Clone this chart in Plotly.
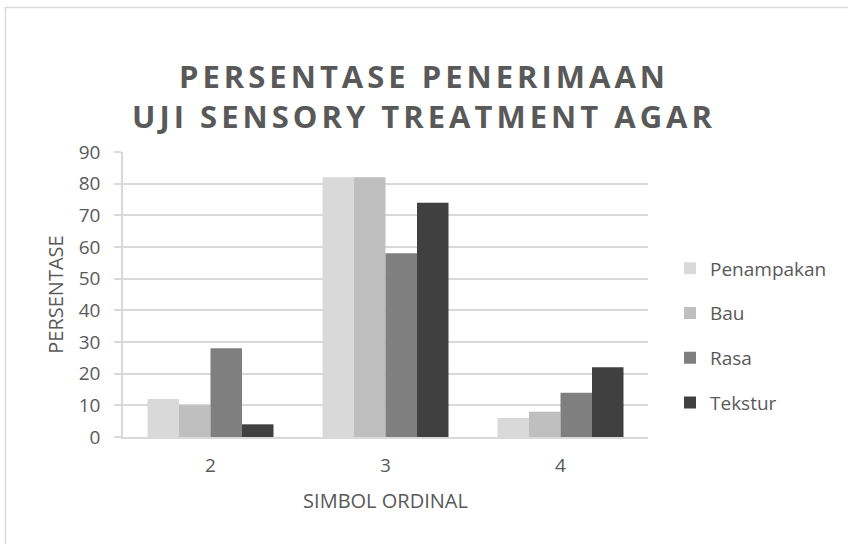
import plotly.graph_objects as go

categories = ["2", "3", "4"]
series_names = ["Penampakan", "Bau", "Rasa", "Tekstur"]
penampakan = [12, 82, 6]
bau = [10, 82, 8]
rasa = [28, 58, 14]
tekstur = [4, 74, 22]
colors = ["#d9d9d9", "#bfbfbf", "#7f7f7f", "#404040"]

values = [penampakan, bau, rasa, tekstur]
fig = go.Figure()
for name, vals, c in zip(series_names, values, colors):
    fig.add_trace(go.Bar(name=name, x=categories, y=vals, legendgroup=name,
                         marker=dict(color=c, line=dict(width=0))))

W, H = 848, 544
ml, mr, mt, mb = 123, 200, 152, 107
pw, ph = W - ml - mr, H - mt - mb

fig.update_layout(
    width=W, height=H,
    margin=dict(l=ml, r=mr, t=mt, b=mb),
    paper_bgcolor="white", plot_bgcolor="white",
    barmode="group", bargap=0.28, bargroupgap=0,
    font=dict(family="Open Sans", color="#595959"),
    title=dict(
        text="<b>PERSENTASE PENERIMAAN<br>UJI SENSORY TREATMENT AGAR</b>",
        x=0.5, xanchor="center", y=1 - 87.5 / H, yanchor="middle",
        font=dict(size=31, color="#595959", family="Open Sans"),
    ),
    xaxis=dict(
        showline=True, linecolor="#d9d9d9", linewidth=1.5,
        tickfont=dict(size=19, color="#595959"),
        title=dict(text="SIMBOL ORDINAL", font=dict(size=20, color="#595959"), standoff=17),
        ticks="", ticklabelstandoff=10,
    ),
    yaxis=dict(
        range=[0, 90], dtick=10,
        gridcolor="#d9d9d9", gridwidth=1.5,
        showline=True, linecolor="#d9d9d9", linewidth=1.5,
        zeroline=False,
        ticks="outside", ticklen=7, tickcolor="#d9d9d9", tickwidth=1.5,
        tickfont=dict(size=19, color="#595959"),
        ticklabelstandoff=10,
        title=dict(text="PERSENTASE", font=dict(size=20, color="#595959"), standoff=10),
    ),
    legend=dict(
        x=(670 - ml) / pw, xanchor="left", y=(H - mb - 335.5) / ph, yanchor="middle",
        font=dict(size=19, color="#595959"),
        tracegroupgap=17, itemsizing="constant",
    ),
    shapes=[dict(
        type="rect", xref="paper", yref="paper",
        x0=(5.5 - ml) / pw, x1=(852 - ml) / pw,
        y0=-(mb + 6) / ph,
        y1=1 + (mt - 7.5) / ph,
        line=dict(color="#d9d9d9", width=1.5), fillcolor="rgba(0,0,0,0)",
        layer="below",
    )],
)
post = (
    "document.body.style.margin='0';"
    "document.body.style.overflow='hidden';"
    "document.querySelectorAll('.gtitle').forEach(function(e){e.style.letterSpacing='4px';});"
)
fig.write_html("out.html", post_script=post, config={"displayModeBar": False})
